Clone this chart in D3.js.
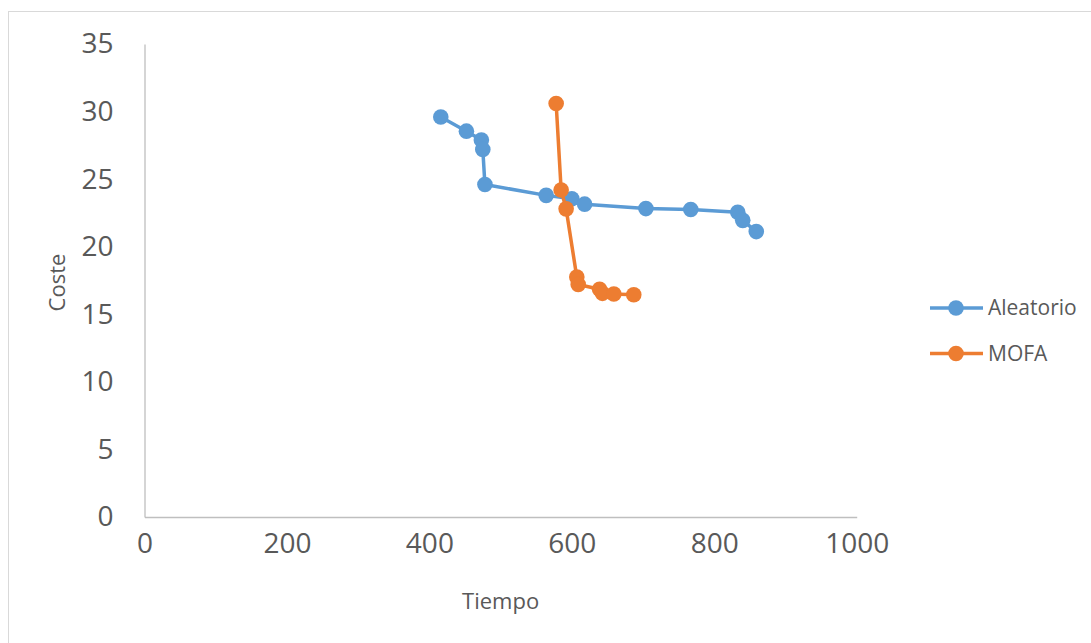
<!DOCTYPE html>
<html lang="es">
<head>
    <meta charset="UTF-8">
    <title>Coste vs Tiempo</title>
    <script src="https://cdnjs.cloudflare.com/ajax/libs/d3/7.8.5/d3.min.js"></script>
    <style>
        body {
            margin: 0;
            background: #fff;
        }

        svg {
            display: block;
            font-family: "Open Sans", sans-serif;
        }

        .axis .domain {
            stroke: #bfbfbf;
            stroke-width: 1.3px;
        }

        .axis text {
            fill: #595959;
            font-size: 28px;
        }

        .title {
            fill: #595959;
            font-size: 22px;
        }

        .legend text {
            fill: #595959;
            font-size: 21px;
        }
    </style>
</head>
<body>
<svg></svg>
<script>

    // datos
    var seriesNames = ['Aleatorio', 'MOFA'];
    var seriesColors = ['#5b9bd5', '#ed7d31'];

    var aleatorioTiempo = [416, 452, 473, 475, 478, 564, 600, 618, 704, 767, 833, 840, 859];
    var aleatorioCoste = [29.6, 28.55, 27.9, 27.2, 24.6, 23.8, 23.55, 23.15, 22.82, 22.75, 22.55, 21.95, 21.12];

    var mofaTiempo = [578, 585, 592, 607, 609, 639, 643, 659, 687];
    var mofaCoste = [30.6, 24.2, 22.8, 17.75, 17.2, 16.85, 16.55, 16.5, 16.45];

    var xTicks = [0, 200, 400, 600, 800, 1000];
    var yTicks = [0, 5, 10, 15, 20, 25, 30, 35];

    var width = 1091;
    var height = 643;

    var svg = d3.select('svg')
        .attr('width', width)
        .attr('height', height);

    // marco del grafico
    svg.append('rect')
        .attr('x', 8.5)
        .attr('y', 11.5)
        .attr('width', 1200)
        .attr('height', 800)
        .attr('fill', '#fff')
        .attr('stroke', '#d9d9d9')
        .attr('stroke-width', 1);

    var x = d3.scaleLinear()
        .domain([0, 1000])
        .range([144.5, 856.7]);

    var y = d3.scaleLinear()
        .domain([0, 35])
        .range([517, 44]);

    var xAxis = d3.axisBottom(x)
        .tickValues(xTicks)
        .tickFormat(d3.format('d'))
        .tickSize(0)
        .tickPadding(27);

    var yAxis = d3.axisLeft(y)
        .tickValues(yTicks)
        .tickSize(0)
        .tickPadding(31);

    svg.append('g')
        .attr('class', 'axis')
        .attr('transform', 'translate(0,' + y(0) + ')')
        .call(xAxis)
        .selectAll('text')
        .attr('dy', '0.32em');

    svg.append('g')
        .attr('class', 'axis')
        .attr('transform', 'translate(' + x(0) + ',0)')
        .call(yAxis);

    svg.selectAll('.axis').attr('font-family', null).attr('font-size', null);

    // titulos de ejes
    svg.append('text')
        .attr('class', 'title')
        .attr('x', (x.range()[0] + x.range()[1]) / 2)
        .attr('y', 609)
        .attr('text-anchor', 'middle')
        .text('Tiempo');

    svg.append('text')
        .attr('class', 'title')
        .attr('transform', 'translate(65,' + ((y.range()[0] + y.range()[1]) / 2 + 2) + ') rotate(-90)')
        .attr('text-anchor', 'middle')
        .text('Coste');

    var series = [
        { name: seriesNames[0], color: seriesColors[0], xs: aleatorioTiempo, ys: aleatorioCoste },
        { name: seriesNames[1], color: seriesColors[1], xs: mofaTiempo, ys: mofaCoste }
    ];

    var line = d3.line()
        .x(function (d) { return x(d[0]); })
        .y(function (d) { return y(d[1]); });

    series.forEach(function (s) {
        var pts = s.xs.map(function (v, i) { return [v, s.ys[i]]; });
        var g = svg.append('g').attr('class', 'series');
        g.append('path')
            .datum(pts)
            .attr('d', line)
            .attr('fill', 'none')
            .attr('stroke', s.color)
            .attr('stroke-width', 3.5)
            .attr('stroke-linejoin', 'round');
        g.selectAll('circle')
            .data(pts)
            .enter()
            .append('circle')
            .attr('cx', function (d) { return x(d[0]); })
            .attr('cy', function (d) { return y(d[1]); })
            .attr('r', 7.8)
            .attr('fill', s.color);
    });

    // leyenda
    var legend = svg.append('g').attr('class', 'legend');
    series.forEach(function (s, i) {
        var ly = 308 + i * 45.5;
        legend.append('line')
            .attr('x1', 930)
            .attr('x2', 983)
            .attr('y1', ly)
            .attr('y2', ly)
            .attr('stroke', s.color)
            .attr('stroke-width', 3.5);
        legend.append('circle')
            .attr('cx', 956)
            .attr('cy', ly)
            .attr('r', 7.8)
            .attr('fill', s.color);
        legend.append('text')
            .attr('x', 988)
            .attr('y', ly)
            .attr('dy', '0.35em')
            .text(s.name);
    });

</script>
</body>
</html>
